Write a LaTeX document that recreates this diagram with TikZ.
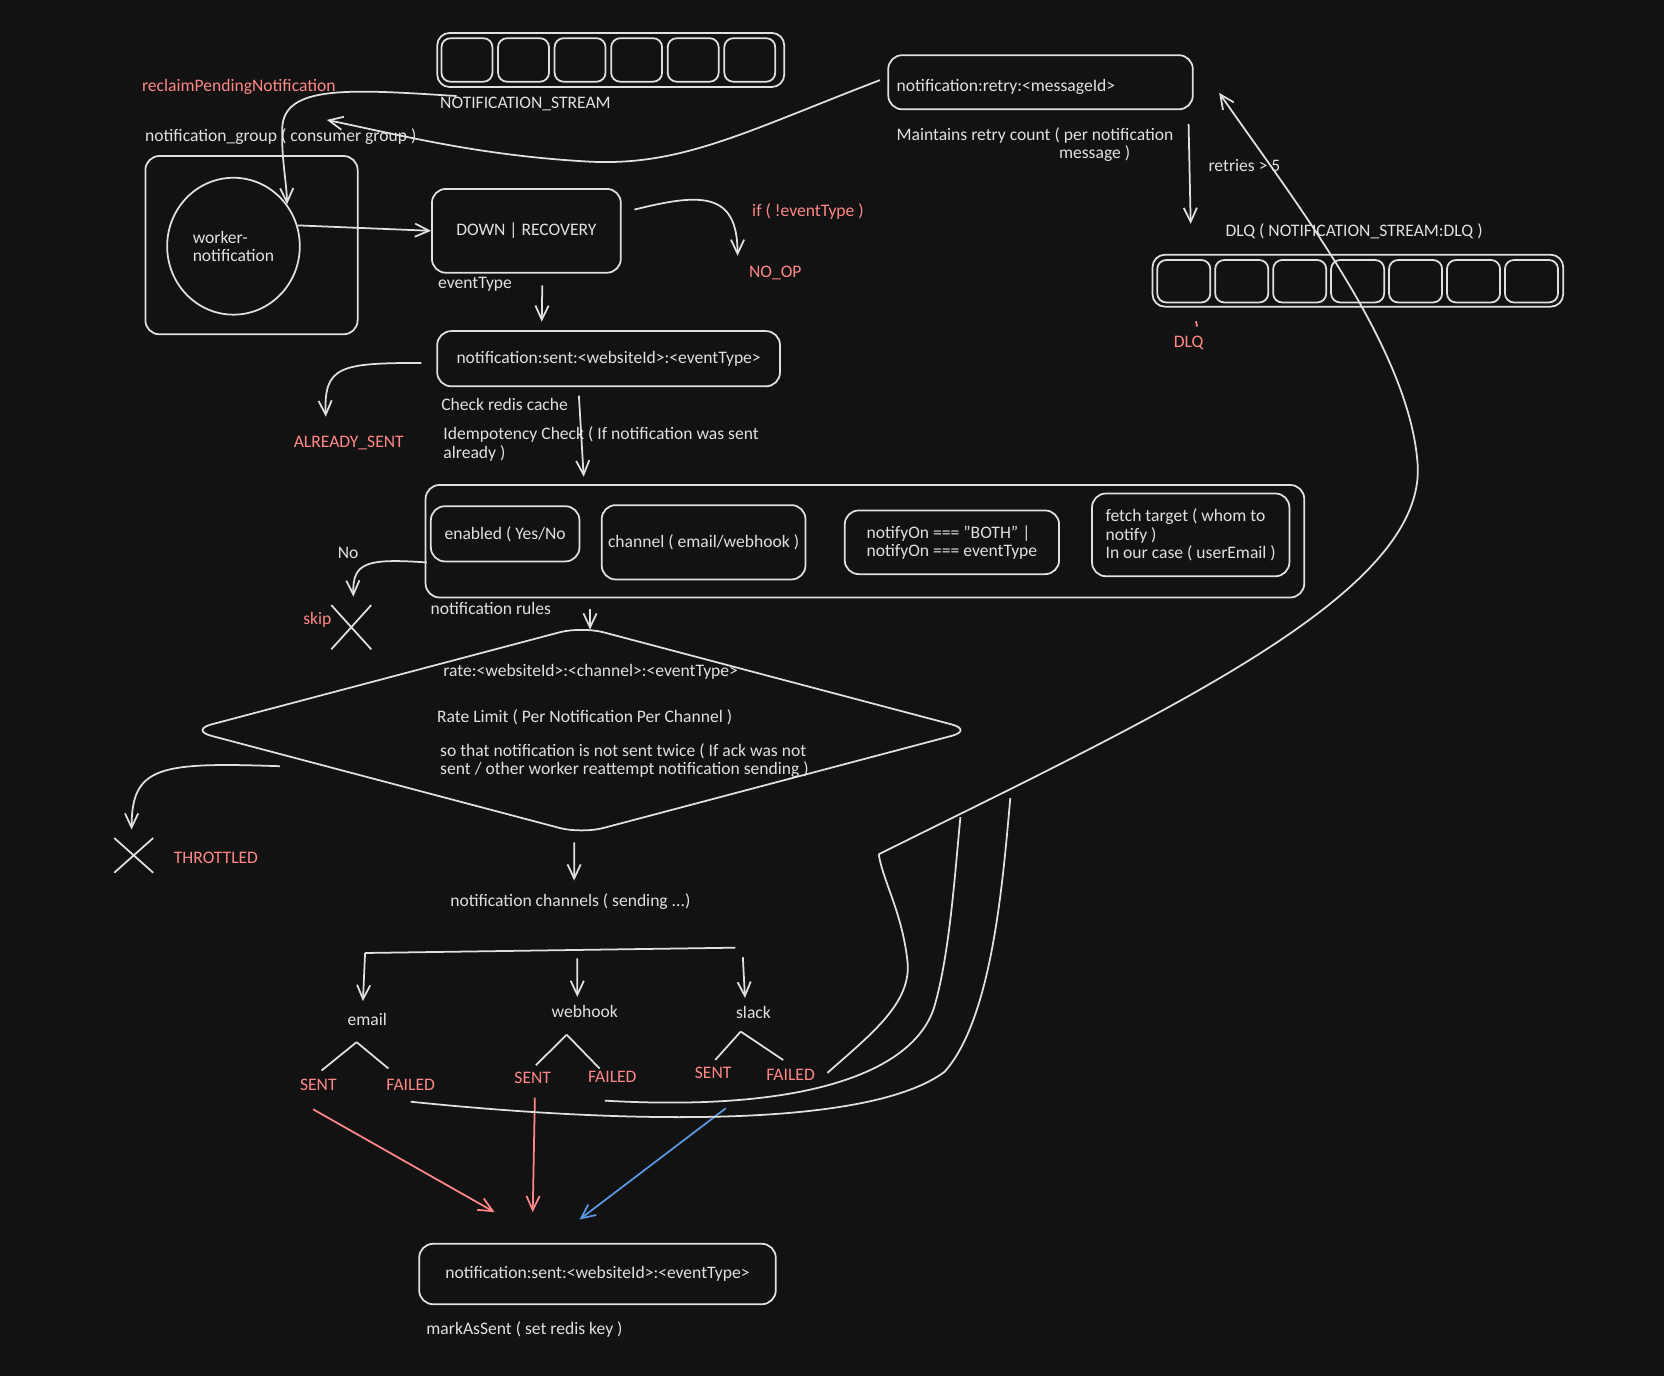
\documentclass[tikz,border=0pt]{standalone}
\usepackage{fontspec}
\setmainfont{Carlito}
\usepackage{xcolor}
\usetikzlibrary{arrows.meta}
\usetikzlibrary{shapes.geometric, shapes.misc}
\usetikzlibrary{calc}
\definecolor{bgdark}{RGB}{18,18,18}
\definecolor{inkw}{RGB}{224,224,224}
\definecolor{inkr}{RGB}{255,135,135}
\definecolor{inkb}{RGB}{90,150,225}
\newcommand{\upx}{0.021224cm}
\newcommand{\handfont}{\fontsize{10}{10.5}\selectfont}

\begin{document}
\begin{tikzpicture}[x=\upx, y=-\upx, color=inkw, line width=1pt,
  sz/.style 2 args={minimum width=#1*\upx, minimum height=#2*\upx},
  lbl/.style={text=inkw, font=\handfont, inner sep=0pt},
  redlbl/.style={lbl, text=inkr},
  box/.style={draw=inkw, rounded corners=0.28cm, inner sep=0pt, font=\handfont, text=inkw},
  cell/.style={box, rounded corners=0.18cm},
  arr/.style={-{Straight Barb[length=8pt,width=7.5pt]}}]

%background:
\fill[bgdark] (0,0) rectangle (1568,1297);
\useasboundingbox (0,0) rectangle (1568,1297);

%stream:
\node[box, sz={327}{51}, rounded corners=0.25cm] (stream) at (575.5,56.5) {};
\foreach \i in {0,...,5}
  \node[cell, sz={48}{41}] (scell\i) at (440+53.3*\i,56.5) {};
\node[lbl, anchor=west] (streamlbl) at (414,98) {NOTIFICATION\_STREAM};

%consumer group:
\node[redlbl, anchor=west] (reclaim) at (133,82) {reclaimPendingNotification};
\node[lbl, anchor=west] (grouplbl) at (136,129) {notification\_group ( consumer group )};
\node[box, sz={200}{168}] (group) at (237,231) {};
\node[ellipse, draw=inkw, sz={125}{129}, font=\handfont, text=inkw, align=left, inner sep=0pt] (worker) at (220,232) {worker-\\notification};

%event type:
\node[box, sz={178}{79}] (evt) at (496,217.5) {DOWN | RECOVERY};
\node[lbl, anchor=west] (evtlbl) at (412,268) {eventType};
\node[redlbl, anchor=west] (ifnot) at (708,199) {if ( !eventType )};
\node[redlbl, anchor=west] (noop) at (705,257) {NO\_OP};

%retry and DLQ:
\node[box, sz={287}{51}, inner xsep=8*\upx, text width=271*\upx, align=left] (retry) at (980.5,77.5) {\raisebox{-0.1cm}[\height][\depth]{notification:retry:<messageId>}};
\node[lbl, anchor=north west, align=left] (maint) at (844,119) {Maintains retry count ( per notification\\\hspace*{3.25cm}message )};
\node[lbl, anchor=west] (retries) at (1138,156) {retries > 5};
\node[lbl, anchor=west] (dlqlbl) at (1154,218) {DLQ ( NOTIFICATION\_STREAM:DLQ )};
\node[box, sz={387}{49}, rounded corners=0.25cm] (dlq) at (1279.5,264.5) {};
\foreach \i in {0,...,6}
  \node[cell, sz={50}{40}] (dcell\i) at (1115.5+54.6*\i,265) {};
\node[redlbl] (dlqred) at (1120,323) {DLQ};

%idempotency:
\node[box, sz={323}{52}] (sentkey) at (573.5,338) {notification:sent:<websiteId>:<eventType>};
\node[lbl, anchor=west] (cache) at (415,381) {Check redis cache};
\node[lbl, anchor=west, align=left] (idem) at (417,418.5) {Idempotency Check ( If notification was sent\\already )};
\node[redlbl, anchor=west] (already) at (276,417) {ALREADY\_SENT};

%rules:
\node[box, sz={828}{106}] (rules) at (815,510) {};
\node[lbl, anchor=west] (ruleslbl) at (405,573) {notification rules};
\node[box, sz={140}{52}] (enabled) at (476,503) {enabled ( Yes/No};
\node[box, sz={192}{70}] (chan) at (663,511) {channel ( email/webhook )};
\node[box, sz={202}{60}, align=left] (notifyon) at (897,511) {notifyOn === "BOTH" |\\notifyOn === eventType};
\node[box, sz={186}{78}, align=left] (target) at (1122,504) {fetch target ( whom to\\notify )\\In our case ( userEmail )};
\node[lbl] (nolbl) at (328,521) {No};
\node[cross out, draw=inkw, sz={36}{40}] (skipx) at (331,591) {};
\node[redlbl, anchor=west] (skip) at (285,584) {skip};

%rate limit:
\node[diamond, draw=inkw, sz={739}{196}, inner sep=0pt, rounded corners=0.45cm] (rate) at (548,688) {};
\node[lbl, anchor=west] (ratekey) at (417,633) {rate:<websiteId>:<channel>:<eventType>};
\node[lbl, anchor=west] (ratelbl) at (411,676) {Rate Limit ( Per Notification Per Channel )};
\node[lbl, anchor=west, align=left] (twice) at (414,716.5) {so that notification is not sent twice ( If ack was not\\sent / other worker reattempt notification sending )};
\node[cross out, draw=inkw, sz={35}{31}] (throtx) at (126,806) {};
\node[redlbl, anchor=west] (throt) at (163,808) {THROTTLED};

%channels:
\node[lbl] (chans) at (537.5,850) {notification channels ( sending ...)};
\node[lbl] (email) at (346,961) {email};
\node[lbl] (webhook) at (551,953) {webhook};
\node[lbl] (slack) at (710,954) {slack};
\node[redlbl] (esent) at (300,1022) {SENT};
\node[redlbl] (efail) at (387,1022) {FAILED};
\node[redlbl] (wsent) at (502,1016) {SENT};
\node[redlbl] (wfail) at (577,1015) {FAILED};
\node[redlbl] (ssent) at (672,1011) {SENT};
\node[redlbl] (sfail) at (745,1013) {FAILED};

%mark as sent:
\node[box, sz={336}{57}] (sentfin) at (563,1200.5) {notification:sent:<websiteId>:<eventType>};
\node[lbl, anchor=west] (marklbl) at (401,1253) {markAsSent ( set redis key )};

\coordinate (busL) at (344,898);
\coordinate (busR) at (693,893);
\coordinate (busW) at ($(busL)!0.573!(busR)$);
\coordinate (eapex) at (336,982);
\coordinate (wapex) at (534,975);
\coordinate (sapex) at (698,972);
\coordinate (ret) at (828,805);
\coordinate (retB) at (905,770);
\coordinate (retC) at (952,752);

%top arrows
\draw[arr] ([shift={(19,34)}]stream.west) .. controls (330,84) and (268,80) .. (266,120) .. controls (265,150) and (270,170) .. (worker.38);
\draw[arr] ([shift={(-7,-2)}]retry.west) .. controls (700,125) and (640,158) .. (550,152) .. controls (450,146) and (380,128) .. ([shift={(172,-16)}]grouplbl.west);
\draw[arr] (worker.18) -- (evt.west);
\draw[arr] ([shift={(12,-20)}]evt.east) .. controls (660,182) and (695,180) .. ([shift={(-10,-16)}]noop.west);
\draw[arr] ([shift={(15,11)}]evt.south) -- ([shift={(-63,-8)}]sentkey.north);
\draw[arr] ([shift={(139.5,13)}]retry.south) -- ([shift={(-32,-7)}]dlqlbl.west);
\draw[inkr] ([shift={(7,-13)}]dlqred.north) -- ([shift={(8,-8)}]dlqred.north);

%checks
\draw[arr] ([shift={(-14,4)}]sentkey.west) .. controls (320,342) and (305,345) .. ([shift={(31,-17)}]already.north west);
\draw[arr] ([shift={(-28,8)}]sentkey.south) -- ([shift={(-265,-7)}]rules.north);
\draw[arr] ([shift={(2,20)}]rules.west) .. controls (345,526) and (332,530) .. ([shift={(2,-8)}]skipx.north);
\draw[arr] ([shift={(-259,10)}]rules.south) -- ([shift={(8,4)}]rate.north);
\draw[arr] ([shift={(86,34)}]rate.west) .. controls (150,718) and (124,722) .. ([shift={(-2,-8)}]throtx.north);
\draw[arr] ([shift={(-7,7)}]rate.south) -- ([shift={(3.5,-12)}]chans.north);

%channel tree
\draw (busL) -- (busR);
\draw[arr] (busL) -- ([shift={(-4,-11)}]email.north);
\draw[arr] ([shift={(0,8)}]busW) -- ([shift={(-7,-7)}]webhook.north);
\draw[arr] ([shift={(7,9)}]busR) -- ([shift={(-8,-7)}]slack.north);
\draw (eapex) -- ([shift={(3,-7)}]esent.north);
\draw (eapex) -- ([shift={(-21,-9)}]efail.north);
\draw (wapex) -- ([shift={(3,-6)}]wsent.north);
\draw (wapex) -- ([shift={(-12,-2)}]wfail.north);
\draw (sapex) -- ([shift={(2,-6)}]ssent.north);
\draw (sapex) -- ([shift={(-7,-8)}]sfail.north);

%sent
\draw[arr, inkr] ([shift={(-5,17)}]esent.south) -- ([shift={(-97,-29)}]sentfin.north);
\draw[arr, inkr] ([shift={(2,12)}]wsent.south) -- ([shift={(-61,-29)}]sentfin.north);
\draw[arr, inkb] ([shift={(12,27)}]ssent.south) -- ([shift={(-17,-22)}]sentfin.north);

%failed, back to retry
\draw ([shift={(11,-2)}]sfail.east) .. controls (820,975) and (860,945) .. (855,905) .. controls (850,860) and (832,830) .. (ret);
\draw ([shift={(-7,16)}]wfail.south) .. controls (760,1048) and (860,1010) .. (880,950) .. controls (895,900) and (900,820) .. (retB);
\draw ([shift={(0,10)}]efail.south) .. controls (600,1060) and (820,1062) .. (890,1010) .. controls (935,960) and (945,830) .. (retC);
\draw[arr] (ret) .. controls (1100,670) and (1340,560) .. (1336,440) .. controls (1330,330) and (1220,190) .. ([shift={(24,10)}]retry.east);

\end{tikzpicture}
\end{document}
